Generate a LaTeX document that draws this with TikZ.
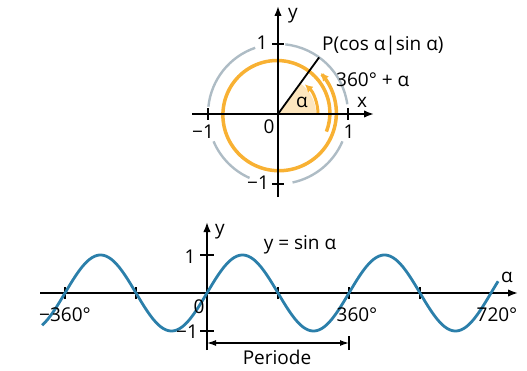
\documentclass[tikz,border=0pt]{standalone}
\usepackage{fontspec}
\setmainfont{Open Sans}
\usetikzlibrary{arrows.meta,calc}
\definecolor{orng}{HTML}{F8B133}
\definecolor{wedgec}{HTML}{FDE6BE}
\definecolor{grayc}{HTML}{AEBCC5}
\definecolor{bluec}{HTML}{2B7FAA}
\begin{document}
\begin{tikzpicture}[x=1pt,y=1pt,
  axis/.style={line width=1.8pt,-{Latex[length=10pt,width=7.5pt]}},
  tick/.style={line width=1.5pt},
  lbl/.style={inner sep=0pt,font=\fontsize{19}{22}\selectfont},
  orangearc/.style={orng,line width=3.5pt},
  grayarc/.style={grayc,line width=2.4pt}]
\useasboundingbox (0,0) rectangle (527,370);
% ---------- unit circle ----------
\coordinate (O) at (278,256);
\coordinate (xl) at (192,256);
\coordinate (xr) at (374,256);
\coordinate (yb) at (278,173);
\coordinate (yt) at (278,364);
\coordinate (P) at ($(O)+(54:70)$);
% wedge
\fill[wedgec] (O) -- ++(38,0) arc[start angle=0,end angle=54,radius=38] -- cycle;
% gray arcs
\foreach \a/\b in {8/84,109/174,203/246,282/337}
  \draw[grayarc] ($(O)+(\a:70)$) arc[start angle=\a,end angle=\b,radius=70];
% spiral 360 + alpha
\draw[orangearc,shift={(278,256)},-{Latex[length=8pt,width=8pt]}] plot[domain=-20:404,samples=150,smooth]
  ({\x}:{51.5+0.018*(\x+20)});
% inner alpha arc
\draw[orng,line width=3pt,-{Latex[length=8pt,width=8pt]}] ($(O)+(0:40)$) arc[start angle=0,end angle=48,radius=40];
% axes
\draw[axis] (xl) -- (xr);
\draw[axis] (yb) -- (yt);
\draw[line width=1.8pt] (O) -- (P);
% ticks
\draw[tick] ($(O)+(70,-6)$) -- ($(O)+(70,6)$);
\draw[tick] ($(O)+(-70,-6)$) -- ($(O)+(-70,6)$);
\draw[tick] ($(O)+(-6,70)$) -- ($(O)+(6,70)$);
\draw[tick] ($(O)+(-6,-70)$) -- ($(O)+(6,-70)$);
% labels
\node[lbl] (ly) at (293,354) {y};
\node[lbl] (lx) at (362,268) {x};
\node[lbl] (l1y) at (262,327) {1};
\node[lbl] (lm1y) at (258,187) {−1};
\node[lbl] (lm1x) at (203,238) {−1};
\node[lbl] (l1x) at (349,238) {1};
\node[lbl] (l0) at (269,243) {0};
\node[lbl] (la) at (302,268) {α};
\node[lbl,anchor=west] (lP) at (322,324) {P(cos α|sin α)};
\node[lbl,anchor=west] (l360) at (336,290) {360° + α};
% ---------- sine graph ----------
\coordinate (O2) at (207,77);
\coordinate (al) at (40,77);
\coordinate (ar) at (518,77);
\coordinate (b2) at (207,20);
\coordinate (t2) at (207,148);
\draw[axis] (al) -- (ar);
\draw[axis] (b2) -- (t2);
\foreach \d in {-360,-180,180,360,540}
  \draw[tick] ($(O2)+({\d/180*71},-6)$) -- ($(O2)+({\d/180*71},6)$);
\draw[tick] ($(O2)+(-7,38)$) -- ($(O2)+(7,38)$);
\draw[tick] ($(O2)+(-7,-38)$) -- ($(O2)+(7,-38)$);
\draw[bluec,line width=2.8pt] plot[domain=-418:738,samples=250,smooth]
  ({207+\x/180*71},{77+38*sin(\x)});
% period
\coordinate (pL) at (207,27);
\coordinate (pR) at (349,27);
\draw[line width=1.3pt] (349,20) -- (349,34);
\draw[line width=1.3pt,{Latex[length=9pt,width=6pt]}-{Latex[length=9pt,width=6pt]}] (pL) -- (pR);
% labels
\node[lbl] (y2) at (220,138) {y};
\node[lbl] (fn) at (300,125) {y = sin α};
\node[lbl] (b1) at (190,113) {1};
\node[lbl] (bm1) at (187,38) {−1};
\node[lbl] (b0) at (199,63) {0};
\node[lbl] (bm360) at (65,55) {−360°};
\node[lbl] (b360) at (357,55) {360°};
\node[lbl] (b720) at (497,55) {720°};
\node[lbl] (balpha) at (507,93) {α};
\node[lbl] (per) at (277,13) {Periode};
\end{tikzpicture}
\end{document}
